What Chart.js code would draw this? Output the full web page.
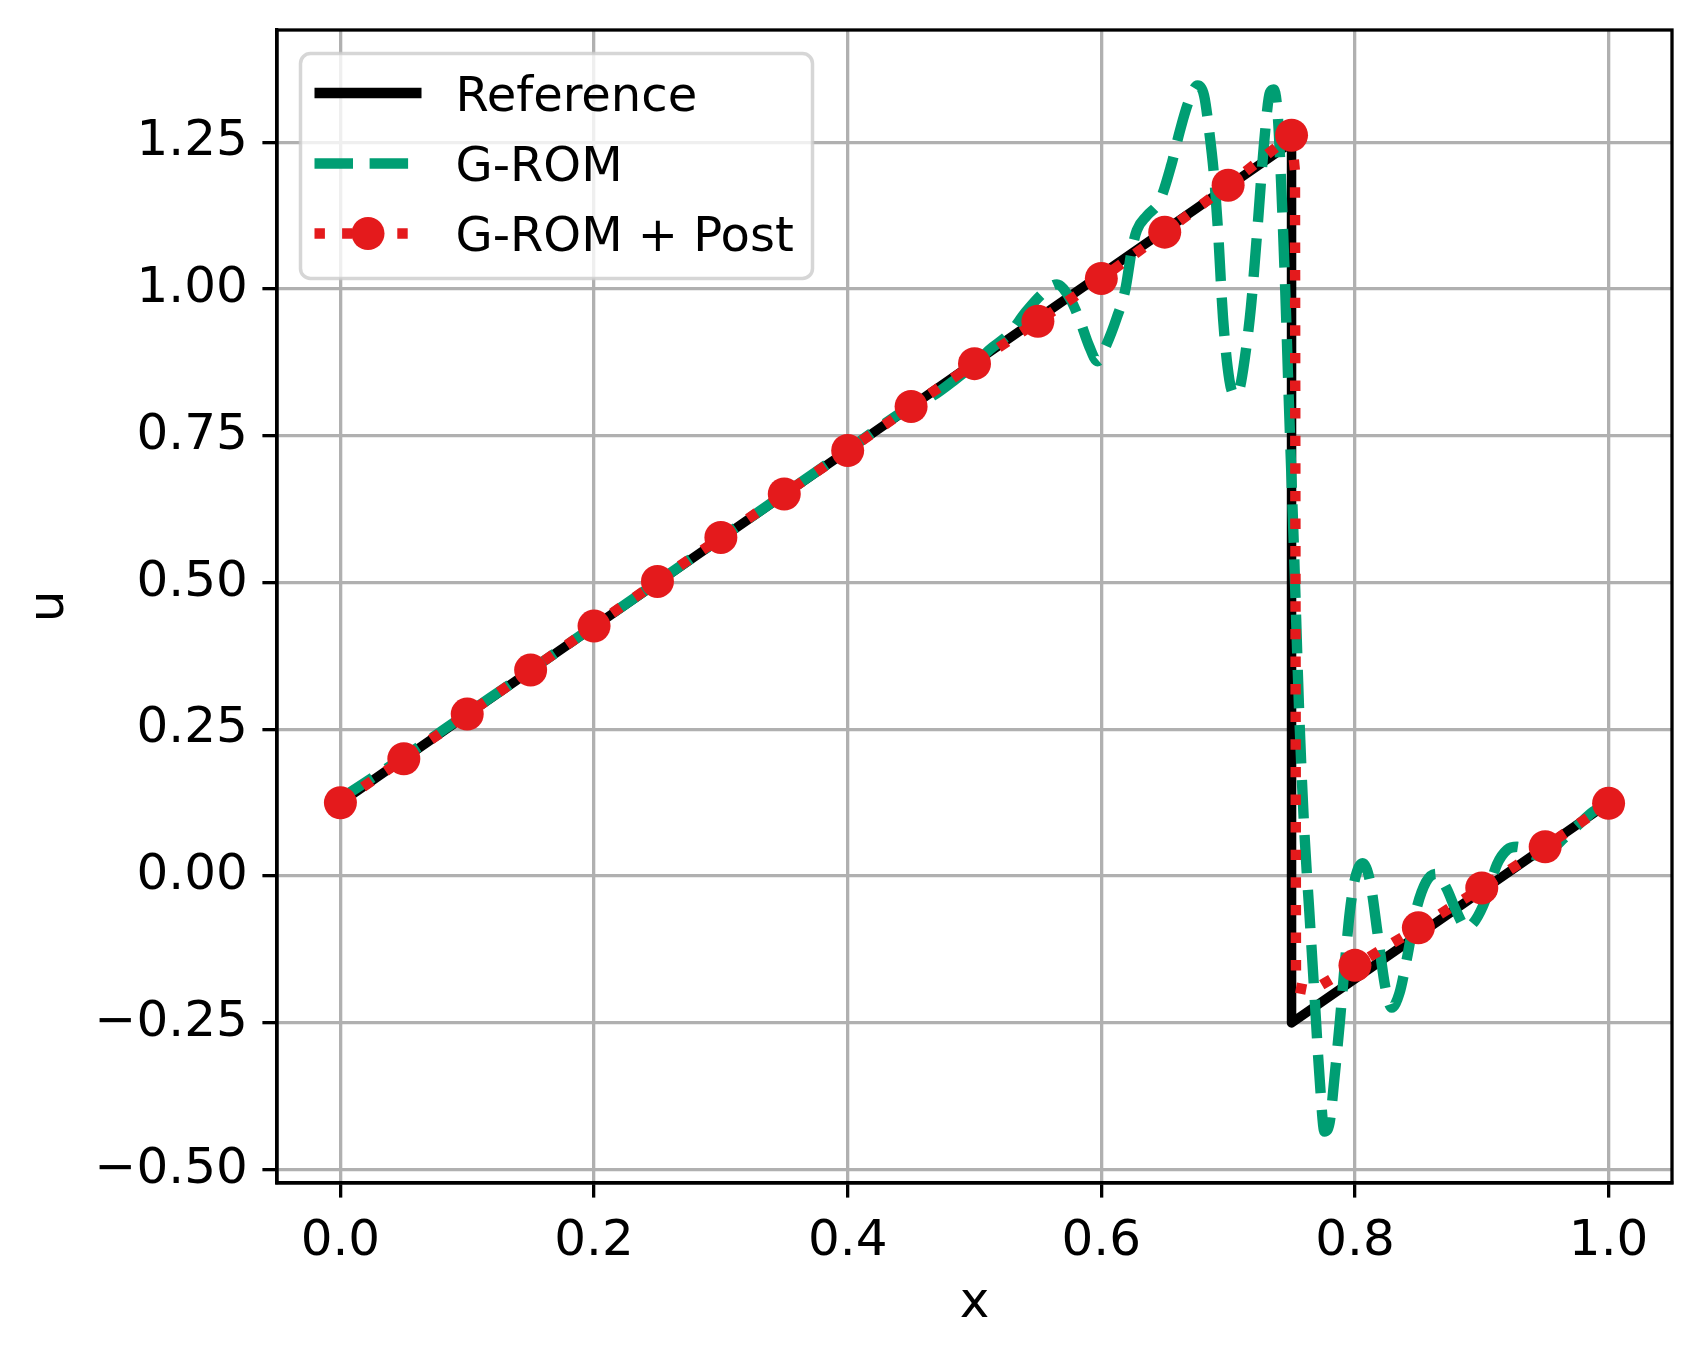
<!DOCTYPE html>
<html>
<head>
<meta charset="utf-8">
<title>u(x)</title>
<script src="https://cdn.jsdelivr.net/npm/chart.js@4.4.1/dist/chart.umd.min.js"></script>
<style>
  html, body { margin: 0; padding: 0; background: #fff; }
  canvas { display: block; }
</style>
</head>
<body>
<canvas id="chart" width="1703" height="1358"></canvas>
<script>
// --- values ---
const refX = [0.0, 0.75, 0.75, 1.0];
const refU = [0.125, 1.25, -0.25, 0.125];

const gromX = [0.0, 0.05, 0.1, 0.15, 0.2, 0.25, 0.3, 0.35, 0.4, 0.45, 0.467, 0.486, 0.5, 0.512, 0.528,
    0.54, 0.555, 0.565, 0.575, 0.583, 0.59, 0.597, 0.604, 0.612, 0.619, 0.624, 0.628, 0.636, 0.646,
    0.655, 0.662, 0.669, 0.676, 0.681, 0.685, 0.689, 0.692, 0.696, 0.701, 0.705, 0.709, 0.713, 0.718,
    0.723, 0.728, 0.733, 0.736, 0.739, 0.742, 0.745, 0.748, 0.752, 0.756, 0.76, 0.764, 0.768, 0.772,
    0.776, 0.78, 0.784, 0.788, 0.792, 0.796, 0.8, 0.806, 0.812, 0.818, 0.824, 0.829, 0.835, 0.841,
    0.848, 0.856, 0.864, 0.872, 0.88, 0.888, 0.895, 0.903, 0.912, 0.92, 0.928, 0.936, 0.945, 0.955,
    0.965, 0.975, 0.988, 1.0];
const gromU = [0.132, 0.203, 0.277, 0.351, 0.426, 0.501, 0.576, 0.651, 0.726, 0.8, 0.818, 0.848, 0.872, 0.897, 0.925,
    0.96, 0.995, 1.008, 0.985, 0.947, 0.905, 0.877, 0.905, 0.95, 1.0, 1.066, 1.1, 1.125, 1.15,
    1.21, 1.27, 1.32, 1.347, 1.33, 1.27, 1.19, 1.1, 0.95, 0.845, 0.82, 0.83, 0.88, 0.97,
    1.1, 1.24, 1.335, 1.34, 1.3, 1.17, 1.0, 0.8, 0.55, 0.28, 0.08, -0.06, -0.2, -0.34,
    -0.435, -0.42, -0.34, -0.25, -0.15, -0.06, -0.005, 0.022, -0.01, -0.1, -0.19, -0.224, -0.2, -0.14,
    -0.06, -0.01, 0.004, -0.02, -0.06, -0.088, -0.075, -0.04, 0.02, 0.045, 0.05, 0.04, 0.035, 0.045,
    0.065, 0.085, 0.11, 0.125];

const postX = [0.0, 0.05, 0.1, 0.15, 0.2, 0.25, 0.3, 0.35, 0.4, 0.45, 0.5, 0.55, 0.6, 0.65, 0.7, 0.75,
    0.8, 0.85, 0.9, 0.95, 1.0];
const postU = [0.125, 0.2, 0.276, 0.351, 0.426, 0.502, 0.577, 0.651, 0.725, 0.8, 0.873, 0.945, 1.018, 1.097, 1.177, 1.262,
    -0.152, -0.088, -0.02, 0.05, 0.124];
// corner of the post-processed curve at the shock (no markers there)
const postJumpX = [0.7527, 0.7535, 0.766];
const postJumpU = [1.2, -0.19, -0.195];

const xTicks = [0.0, 0.2, 0.4, 0.6, 0.8, 1.0];
const xTickLabels = ['0.0', '0.2', '0.4', '0.6', '0.8', '1.0'];
const yTicks = [-0.5, -0.25, 0.0, 0.25, 0.5, 0.75, 1.0, 1.25];
const yTickLabels = ['\u22120.50', '\u22120.25', '0.00', '0.25', '0.50', '0.75', '1.00', '1.25'];

const seriesNames = ['Reference', 'G-ROM', 'G-ROM + Post'];

// --- styles ---
const FONT = 'DejaVu Sans';
const BLACK = '#000000', GREEN = '#009e73', RED = '#e41a1c';
const LW = 10.4;
const GREEN_DASH = [38.5, 16.6];
const RED_DOT = [10.4, 17.2];
const MARKER_R = 16.5;
const TICK = 14.6, THIN = 3.3;

const toPts = (xs, ys) => xs.map((x, i) => ({ x: x, y: ys[i] }));

const postLine = toPts(postX, postU).concat(toPts(postJumpX, postJumpU)).sort((a, b) => a.x - b.x);

const whiteBg = {
    id: 'whiteBg',
    beforeDraw(chart) {
        const ctx = chart.ctx;
        ctx.save();
        ctx.fillStyle = '#fff';
        ctx.fillRect(0, 0, chart.width, chart.height);
        ctx.restore();
    }
};

// box round the plot, over the data like matplotlib spines
const spines = {
    id: 'spines',
    afterDatasetsDraw(chart) {
        const { ctx, chartArea: a } = chart;
        ctx.save();
        ctx.strokeStyle = BLACK;
        ctx.lineWidth = THIN;
        ctx.strokeRect(a.left, a.top, a.right - a.left, a.bottom - a.top);
        ctx.restore();
    }
};

// legend box in the upper left corner of the axes
const axesLegend = {
    id: 'axesLegend',
    afterDraw(chart) {
        const { ctx, chartArea: a } = chart;
        const bx = a.left + 23.5, by = a.top + 23.5, bw = 512, bh = 225, r = 10;
        ctx.save();
        ctx.beginPath();
        ctx.roundRect(bx, by, bw, bh, r);
        ctx.fillStyle = 'rgba(255,255,255,0.8)';
        ctx.fill();
        ctx.lineWidth = 3.5;
        ctx.strokeStyle = 'rgba(204,204,204,0.8)';
        ctx.stroke();

        const hx0 = bx + 14, hx1 = bx + 121, tx = bx + 155;
        const rows = [by + 39.5, by + 110, by + 180];
        const styles = [
            { color: BLACK, dash: [], marker: false },
            { color: GREEN, dash: GREEN_DASH, marker: false },
            { color: RED, dash: RED_DOT, marker: true }
        ];
        styles.forEach((s, i) => {
            const y = rows[i];
            ctx.beginPath();
            ctx.setLineDash(s.dash);
            ctx.lineCap = 'butt';
            ctx.lineWidth = LW;
            ctx.strokeStyle = s.color;
            ctx.moveTo(hx0, y);
            ctx.lineTo(hx1, y);
            ctx.stroke();
            ctx.setLineDash([]);
            if (s.marker) {
                ctx.beginPath();
                ctx.arc((hx0 + hx1) / 2, y, MARKER_R, 0, Math.PI * 2);
                ctx.fillStyle = s.color;
                ctx.fill();
            }
            ctx.fillStyle = BLACK;
            ctx.font = '48px "' + FONT + '"';
            ctx.textBaseline = 'alphabetic';
            ctx.textAlign = 'left';
            ctx.fillText(seriesNames[i], tx, y + 17.5);
        });
        ctx.restore();
    }
};

const gridOpts = {
    color: '#b0b0b0',
    lineWidth: THIN,
    tickColor: BLACK,
    tickWidth: THIN,
    tickLength: TICK,
    drawTicks: true
};

// fixed axis sizes so the plot box sits where the reference has it
const noPad = s => { s.paddingTop = 0; s.paddingBottom = 0; s.paddingLeft = 0; s.paddingRight = 0; };

new Chart(document.getElementById('chart'), {
    type: 'scatter',
    data: {
        datasets: [
            {
                label: seriesNames[2] + ' markers',
                data: toPts(postX, postU),
                showLine: false,
                pointRadius: MARKER_R,
                pointBackgroundColor: RED,
                pointBorderWidth: 0,
                order: 1
            },
            {
                label: seriesNames[2],
                data: postLine,
                showLine: true,
                borderColor: RED,
                borderWidth: LW,
                borderDash: RED_DOT,
                borderCapStyle: 'butt',
                borderJoinStyle: 'round',
                pointRadius: 0,
                order: 2
            },
            {
                label: seriesNames[1],
                data: toPts(gromX, gromU),
                showLine: true,
                borderColor: GREEN,
                borderWidth: LW,
                borderDash: GREEN_DASH,
                borderCapStyle: 'butt',
                borderJoinStyle: 'round',
                cubicInterpolationMode: 'monotone',
                pointRadius: 0,
                order: 3
            },
            {
                label: seriesNames[0],
                data: toPts(refX, refU),
                showLine: true,
                borderColor: BLACK,
                borderWidth: 9.5,
                borderCapStyle: 'square',
                borderJoinStyle: 'round',
                pointRadius: 0,
                order: 4
            }
        ]
    },
    options: {
        responsive: false,
        animation: false,
        devicePixelRatio: 1,
        layout: { padding: { top: 30, right: 31, left: 0, bottom: 0 } },
        plugins: {
            legend: { display: false },
            tooltip: { enabled: false }
        },
        scales: {
            x: {
                type: 'linear',
                min: -0.05,
                max: 1.05,
                afterFit: s => { s.height = 175; noPad(s); },
                afterBuildTicks: s => { s.ticks = xTicks.map(v => ({ value: v })); },
                grid: gridOpts,
                border: { display: true, color: BLACK, width: THIN },
                ticks: {
                    autoSkip: false,
                    maxRotation: 0,
                    padding: TICK,
                    color: BLACK,
                    font: { family: FONT, size: 50 },
                    callback: (v, i) => xTickLabels[i]
                },
                title: {
                    display: true,
                    text: 'x',
                    color: BLACK,
                    font: { family: FONT, size: 50 },
                    padding: { top: 0, bottom: 24 }
                }
            },
            y: {
                type: 'linear',
                min: -0.5227,
                max: 1.4413,
                afterFit: s => { s.width = 277; noPad(s); },
                afterBuildTicks: s => { s.ticks = yTicks.map(v => ({ value: v })); },
                grid: gridOpts,
                border: { display: true, color: BLACK, width: THIN },
                ticks: {
                    autoSkip: false,
                    padding: TICK,
                    color: BLACK,
                    font: { family: FONT, size: 50 },
                    callback: (v, i) => yTickLabels[i]
                },
                title: {
                    display: true,
                    text: 'u',
                    color: BLACK,
                    font: { family: FONT, size: 50 },
                    padding: { top: 20, bottom: 0 }
                }
            }
        }
    },
    plugins: [whiteBg, spines, axesLegend]
});
</script>
</body>
</html>
